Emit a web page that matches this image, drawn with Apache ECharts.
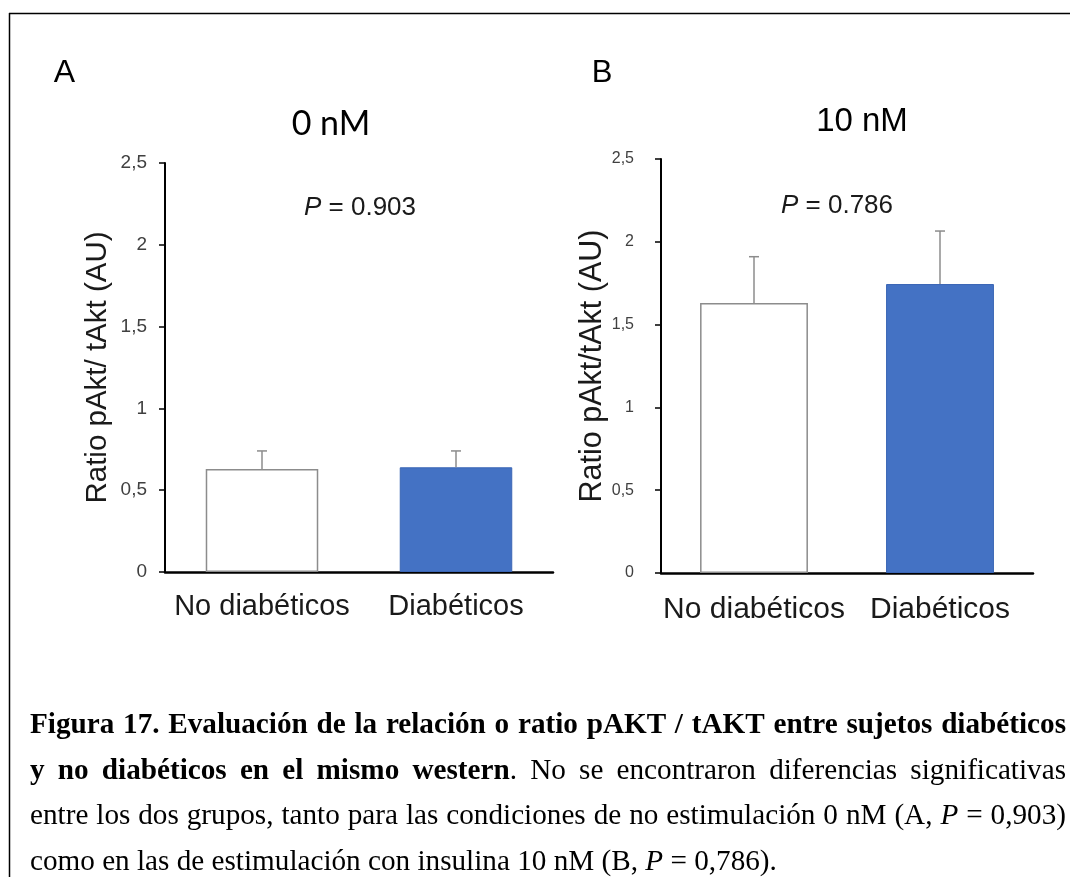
<!DOCTYPE html>
<html>
<head>
<meta charset="utf-8">
<script src="https://cdn.jsdelivr.net/npm/echarts@6/dist/echarts.min.js"></script>
<style>
html,body{margin:0;padding:0;background:#fff;}
#chart{width:1070px;height:877px;}
</style>
</head>
<body>
<div id="chart"></div>
<script>
// ---- data ----
const categories = ['No diabéticos', 'Diabéticos'];
const meansA = [0.63, 0.64];
const errorsA = [0.11, 0.10];
const meansB = [1.63, 1.745];
const errorsB = [0.28, 0.32];
const pValues = ['0.903', '0.786'];
const panelTitles = ['0 nM', '10 nM'];
const panelLetters = ['A', 'B'];
const yAxisNames = ['Ratio pAkt/ tAkt (AU)', 'Ratio pAkt/tAkt (AU)'];
const yMin = 0, yMax = 2.5, yInterval = 0.5;
const captionLines = [
  [['b', 'Figura 17. Evaluación de la relación o ratio pAKT / tAKT entre sujetos diabéticos']],
  [['b', 'y no diabéticos en el mismo western'], ['n', '. No se encontraron diferencias significativas']],
  [['n', 'entre los dos grupos, tanto para las condiciones de no estimulación 0 nM (A, '], ['i', 'P'], ['n', ' = 0,903)']],
  [['n', 'como en las de estimulación con insulina 10 nM (B, '], ['i', 'P'], ['n', ' = 0,786).']]
];

const SANS = '"Liberation Sans", Arial, sans-serif';
const SERIF = '"Liberation Serif", "Times New Roman", serif';
const BLUE = '#4472C4';
const EDGE = '#8c8c8c';
const CAP_FS = 29.2;

const chart = echarts.init(document.getElementById('chart'));

function barData(means) {
  return means.map((v, i) => ({
    value: v,
    itemStyle: i === 0
      ? { color: '#ffffff', borderColor: EDGE, borderWidth: 1.5 }
      : { color: BLUE, borderColor: '#3b66b5', borderWidth: 1 }
  }));
}
function errData(means, errs) {
  return means.map((v, i) => [i, v, v + errs[i]]);
}
function renderErr(params, api) {
  const base = api.coord([api.value(0), api.value(1)]);
  const top = api.coord([api.value(0), api.value(2)]);
  const st = { stroke: EDGE, lineWidth: 1.5 };
  return {
    type: 'group',
    children: [
      { type: 'line', shape: { x1: base[0], y1: base[1], x2: top[0], y2: top[1] }, style: st },
      { type: 'line', shape: { x1: top[0] - 5, y1: top[1], x2: top[0] + 5, y2: top[1] }, style: st }
    ]
  };
}

const grids = [
  { left: 165, top: 163, width: 388, height: 409 },
  { left: 661, top: 159, width: 372, height: 414 }
];
const catFont = [29, 30];
const catMargin = [20, 22];
const tickFont = [19, 16];
const tickMargin = [18, 27];
const nameFont = [29.5, 30.5];
const nameGap = [52, 49];

const xAxes = [0, 1].map(k => ({
  type: 'category', gridIndex: k, data: categories,
  axisLine: { lineStyle: { color: '#000', width: 2.5 } },
  axisTick: { show: false },
  axisLabel: { fontFamily: SANS, fontSize: catFont[k], color: '#1a1a1a', margin: catMargin[k], interval: 0 }
}));
const yAxes = [0, 1].map(k => ({
  type: 'value', gridIndex: k, min: yMin, max: yMax, interval: yInterval,
  name: yAxisNames[k], nameLocation: 'middle', nameGap: nameGap[k],
  nameTextStyle: { fontFamily: SANS, fontSize: nameFont[k], color: '#1a1a1a' },
  axisLine: { show: true, lineStyle: { color: '#000', width: 2 } },
  axisTick: { show: true, length: 6, lineStyle: { color: '#000', width: 1.5 } },
  splitLine: { show: false },
  axisLabel: {
    fontFamily: SANS, fontSize: tickFont[k], color: '#404040', margin: tickMargin[k],
    formatter: v => String(v).replace('.', ',')
  }
}));

const series = [];
[[meansA, errorsA], [meansB, errorsB]].forEach(([m, e], k) => {
  series.push({
    type: 'bar', xAxisIndex: k, yAxisIndex: k, data: barData(m), barWidth: '58%', z: 2, silent: true
  });
  series.push({
    type: 'custom', xAxisIndex: k, yAxisIndex: k, data: errData(m, e),
    encode: { x: 0, y: [1, 2] }, renderItem: renderErr, z: 3, silent: true
  });
});

// ---- caption layout (justified, word by word) ----
const fontOf = { b: 'bold ' + CAP_FS + 'px ' + SERIF, n: CAP_FS + 'px ' + SERIF, i: 'italic ' + CAP_FS + 'px ' + SERIF };
const richOf = {
  b: { fontFamily: SERIF, fontSize: CAP_FS, fontWeight: 'bold', fill: '#000', color: '#000' },
  n: { fontFamily: SERIF, fontSize: CAP_FS, fill: '#000', color: '#000' },
  i: { fontFamily: SERIF, fontSize: CAP_FS, fontStyle: 'italic', fill: '#000', color: '#000' }
};
const mctx = document.createElement('canvas').getContext('2d');
function measure(st, txt) { mctx.font = fontOf[st]; return mctx.measureText(txt).width; }

const capLeft = 30, capRight = 1066;
const capBaseY = [727, 773, 818, 864];
const captionGraphics = [];
captionLines.forEach((runs, li) => {
  const words = [];
  let cur = [];
  runs.forEach(([st, txt]) => {
    const parts = txt.split(' ');
    parts.forEach((p, pi) => {
      if (pi > 0) { if (cur.length) words.push(cur); cur = []; }
      if (p.length) cur.push([st, p]);
    });
  });
  if (cur.length) words.push(cur);
  const widths = words.map(w => w.reduce((s, [st, t]) => s + measure(st, t), 0));
  const total = widths.reduce((a, b) => a + b, 0);
  const justify = li < captionLines.length - 1;
  const gap = justify ? (capRight - capLeft - total) / (words.length - 1) : measure('n', ' ');
  let x = capLeft;
  words.forEach((w, wi) => {
    captionGraphics.push({
      type: 'text', left: x, top: capBaseY[li] - 16, silent: true,
      style: {
        text: w.map(([st, t]) => '{' + st + '|' + t + '}').join(''),
        rich: richOf, fontFamily: SERIF, fontSize: CAP_FS, fill: '#000'
      }
    });
    x += widths[wi] + gap;
  });
});

function richP(p) { return '{i|P}{n| = ' + p + '}'; }
const pRich = {
  i: { fontFamily: SANS, fontSize: 26, fontStyle: 'italic', fill: '#1a1a1a', color: '#1a1a1a' },
  n: { fontFamily: SANS, fontSize: 26, fill: '#1a1a1a', color: '#1a1a1a' }
};

const graphic = [
  { type: 'line', silent: true, shape: { x1: 9, y1: 13.5, x2: 1070, y2: 13.5 }, style: { stroke: '#000', lineWidth: 1.5 } },
  { type: 'line', silent: true, shape: { x1: 9.5, y1: 13, x2: 9.5, y2: 877 }, style: { stroke: '#000', lineWidth: 1.5 } },
  { type: 'text', x: 64.5, y: 73.5, silent: true, style: { text: panelLetters[0], font: '32px ' + SANS, fill: '#000', textAlign: 'center', textVerticalAlign: 'middle' } },
  { type: 'text', x: 602, y: 73, silent: true, style: { text: panelLetters[1], font: '31px ' + SANS, fill: '#000', textAlign: 'center', textVerticalAlign: 'middle' } },
  { type: 'text', x: 331, y: 124, silent: true, style: { text: panelTitles[0], font: '34px Lato, ' + SANS, fill: '#000', textAlign: 'center', textVerticalAlign: 'middle' } },
  { type: 'text', x: 862, y: 122, silent: true, style: { text: panelTitles[1], font: '33px ' + SANS, fill: '#000', textAlign: 'center', textVerticalAlign: 'middle' } },
  { type: 'text', x: 360, y: 208, silent: true, style: { text: richP(pValues[0]), rich: pRich, textAlign: 'center', textVerticalAlign: 'middle' } },
  { type: 'text', x: 837, y: 206, silent: true, style: { text: richP(pValues[1]), rich: pRich, textAlign: 'center', textVerticalAlign: 'middle' } }
].concat(captionGraphics);

chart.setOption({
  animation: false,
  backgroundColor: '#fff',
  grid: grids,
  xAxis: xAxes,
  yAxis: yAxes,
  series: series,
  graphic: graphic
});
</script>
</body>
</html>
